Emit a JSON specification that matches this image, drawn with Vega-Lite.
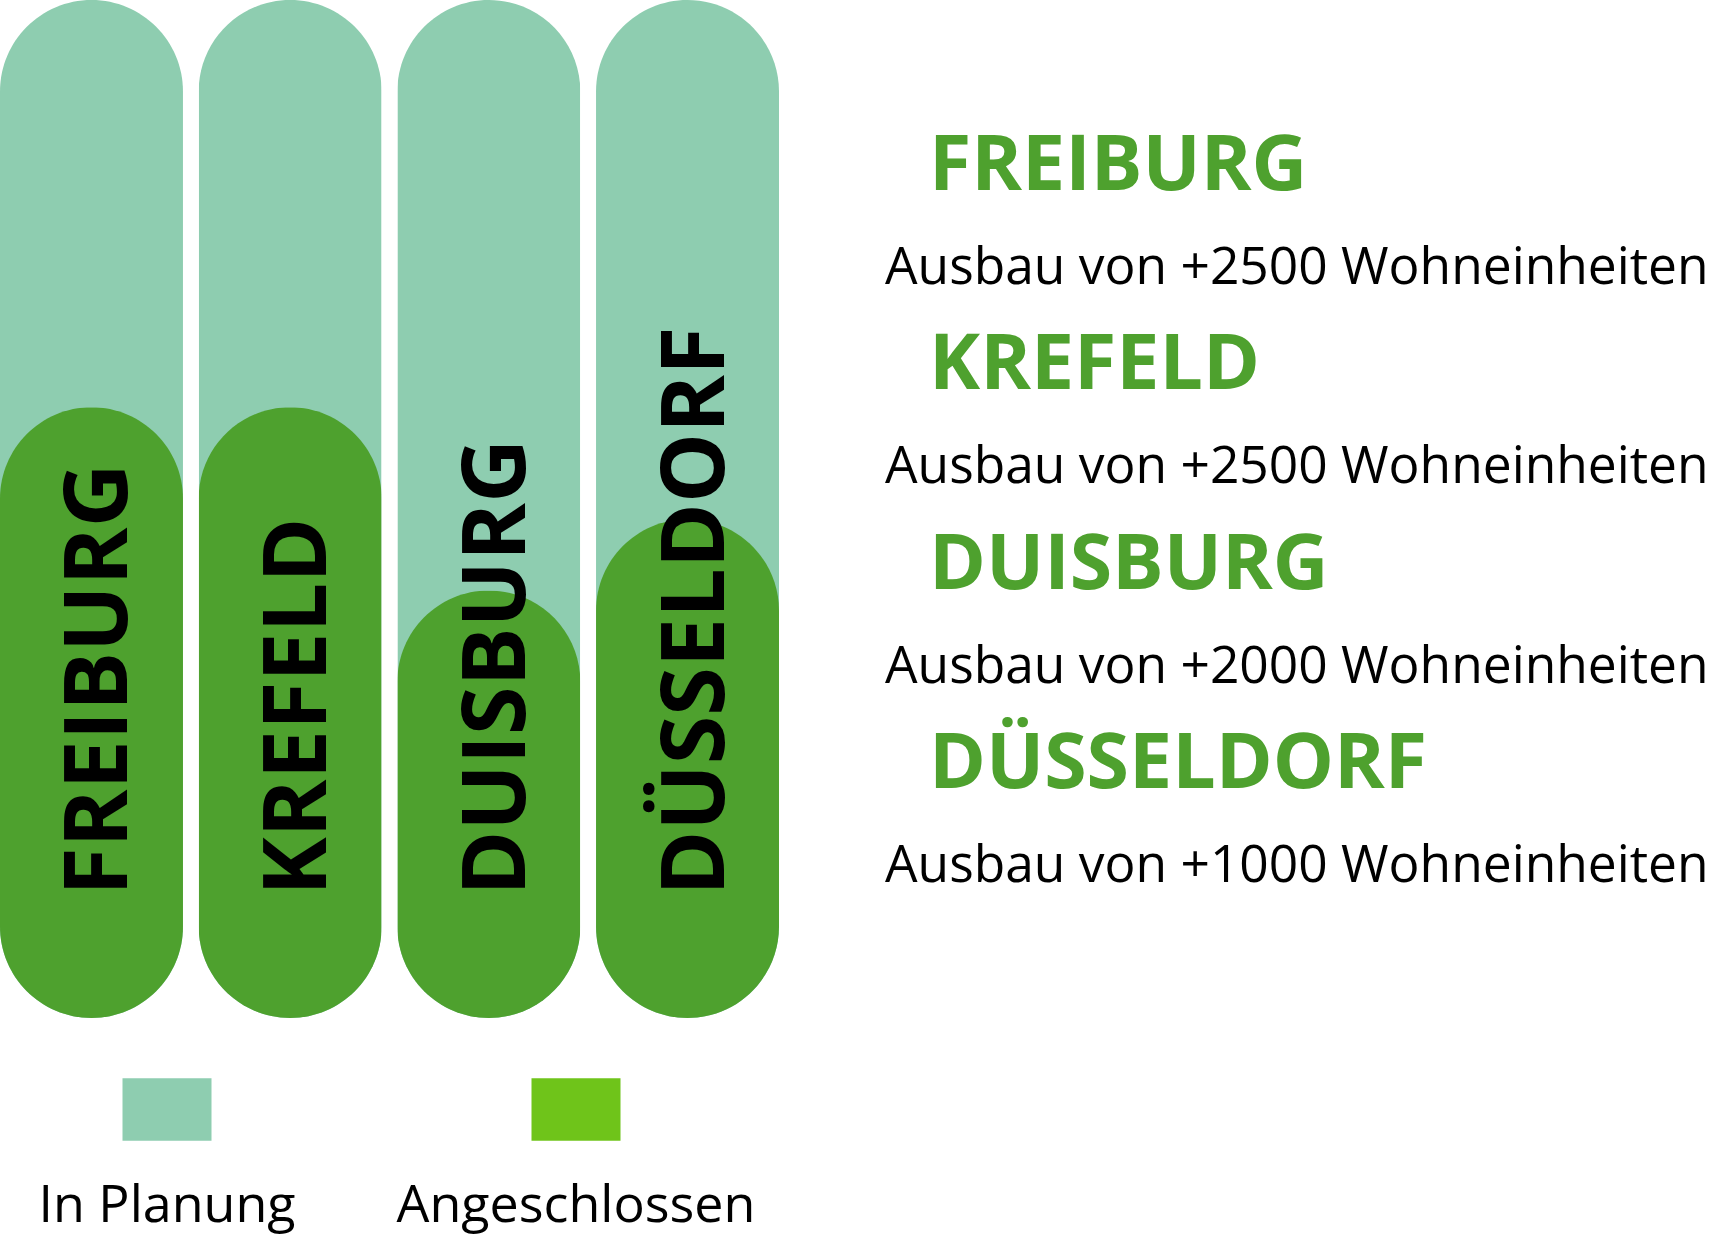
{
  "$schema": "https://vega.github.io/schema/vega-lite/v6.json",
  "padding": 0,
  "background": "white",
  "spacing": 0,
  "datasets": {
    "staedte": [
      {"Stadt": "FREIBURG", "Gesamt": 100, "Angeschlossen": 60, "Ausbau": "Ausbau von +2500 Wohneinheiten"},
      {"Stadt": "KREFELD", "Gesamt": 100, "Angeschlossen": 60, "Ausbau": "Ausbau von +2500 Wohneinheiten"},
      {"Stadt": "DUISBURG", "Gesamt": 100, "Angeschlossen": 42, "Ausbau": "Ausbau von +2000 Wohneinheiten"},
      {"Stadt": "DÜSSELDORF", "Gesamt": 100, "Angeschlossen": 49, "Ausbau": "Ausbau von +1000 Wohneinheiten"}
    ],
    "legende": [
      {"Status": "In Planung"},
      {"Status": "Angeschlossen"}
    ]
  },
  "vconcat": [
    {
      "spacing": 106,
      "hconcat": [
        {
          "width": 779,
          "height": 1018,
          "data": {"name": "staedte"},
          "encoding": {
            "x": {"field": "Stadt", "type": "nominal", "sort": null, "scale": {"paddingInner": 0.079, "paddingOuter": 0}, "axis": null}
          },
          "layer": [
            {
              "mark": {"type": "bar", "cornerRadius": 91.5, "color": "#8ECDB0"},
              "encoding": {"y": {"field": "Gesamt", "type": "quantitative", "scale": {"domain": [0, 100], "nice": false}, "axis": null}}
            },
            {
              "mark": {"type": "bar", "cornerRadius": 91.5, "color": "#4EA12E"},
              "encoding": {"y": {"field": "Angeschlossen", "type": "quantitative"}}
            },
            {
              "mark": {"type": "text", "angle": 270, "align": "left", "baseline": "middle", "dy": 10, "font": "Open Sans", "fontWeight": "bold", "fontSize": 88, "color": "#000000"},
              "encoding": {
                "y": {"datum": 12, "type": "quantitative"},
                "text": {"field": "Stadt"}
              }
            }
          ]
        },
        {
          "width": 843,
          "height": 1018,
          "data": {"name": "staedte"},
          "encoding": {
            "y": {"field": "Stadt", "type": "nominal", "sort": null, "scale": {"type": "point", "padding": 0, "range": [190, 788]}, "axis": null},
            "x": {"datum": 0, "type": "quantitative", "scale": {"domain": [0, 1], "nice": false}, "axis": null}
          },
          "layer": [
            {
              "mark": {"type": "text", "align": "left", "baseline": "alphabetic", "dx": 44, "font": "Open Sans", "fontWeight": "bold", "fontSize": 77, "color": "#4EA12E"},
              "encoding": {"text": {"field": "Stadt"}}
            },
            {
              "mark": {"type": "text", "align": "left", "baseline": "alphabetic", "dy": 94, "font": "Open Sans", "fontSize": 51.5, "color": "#000000"},
              "encoding": {"text": {"field": "Ausbau"}}
            }
          ]
        }
      ]
    },
    {
      "width": 779,
      "height": 229,
      "data": {"name": "legende"},
      "encoding": {
        "x": {"field": "Status", "type": "nominal", "sort": null, "scale": {"type": "point", "padding": 0, "range": [167, 576]}, "axis": null}
      },
      "layer": [
        {
          "mark": {"type": "point", "shape": "M-1,-0.7H1V0.7H-1Z", "size": 7921, "filled": true, "opacity": 1, "strokeWidth": 0, "yOffset": -23},
          "encoding": {
            "color": {"field": "Status", "type": "nominal", "scale": {"domain": ["In Planung", "Angeschlossen"], "range": ["#8ECDB0", "#6FC41A"]}, "legend": null}
          }
        },
        {
          "mark": {"type": "text", "baseline": "alphabetic", "dy": 89, "font": "Open Sans", "fontSize": 52, "color": "#000000"},
          "encoding": {"text": {"field": "Status"}}
        }
      ]
    }
  ],
  "config": {"view": {"stroke": null}}
}
